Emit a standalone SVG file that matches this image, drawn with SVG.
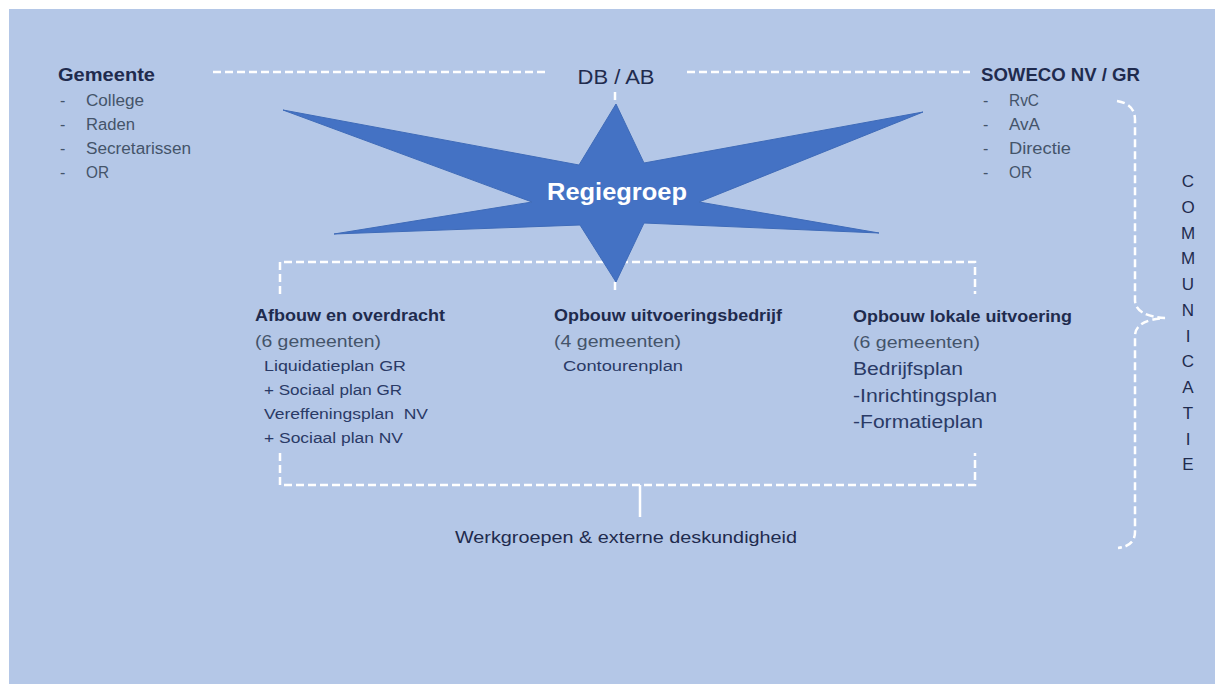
<svg xmlns="http://www.w3.org/2000/svg" width="1215" height="684" viewBox="0 0 1215 684">
<style>
text{font-family:"Liberation Sans",Arial,sans-serif;}
.h{font-weight:bold;fill:#1f2b4e;font-size:18px;}
.li{fill:#44546a;font-size:16px;}
.sub{fill:#44546a;font-size:17px;}
.it{fill:#2a3a66;font-size:15.5px;}
.it2{fill:#2a3a66;font-size:18px;}
.dash{fill:none;stroke:#ffffff;stroke-width:2.5;stroke-dasharray:8 4;}
.solid{fill:none;stroke:#ffffff;stroke-width:2.5;}
.comm{fill:#1f2b4e;font-size:17px;text-anchor:middle;}
</style>
<rect x="9" y="9" width="1206" height="675" fill="#b4c7e7"/>
<g id="connectors">
<line class="dash" x1="213" y1="72" x2="545" y2="72"/>
<line class="dash" x1="687" y1="72" x2="970" y2="72"/>
<line class="dash" x1="615" y1="92" x2="615" y2="104"/>
<line class="dash" x1="615" y1="282" x2="615" y2="294"/>
<path class="dash" d="M280,294 V262 H975 V294"/>
<path class="dash" d="M280,453 V485 H975 V453"/>
<line class="solid" x1="640" y1="485" x2="640" y2="517"/>
<path class="dash" d="M1117,101 Q1135,104 1135,120 V300 Q1135,316 1165,318 Q1135,320 1135,336 V532 Q1135,546 1118,548"/>
</g>
<g id="regiegroep">
<polygon points="616,104 644,163 923,112 699,202 879,233 644,223 616,282 580,225 334,234 532,202 283,110 579,165" fill="#4472c4" stroke="#3f6bb8" stroke-width="1"/>
<text x="617" y="200" text-anchor="middle" font-weight="bold" font-size="24" fill="#ffffff" textLength="140" lengthAdjust="spacingAndGlyphs">Regiegroep</text>
</g>
<g id="gemeente">
<text class="h" x="58" y="81" textLength="97" lengthAdjust="spacingAndGlyphs">Gemeente</text>
<text class="li" x="60" y="106">-</text><text class="li" x="86" y="106" textLength="58" lengthAdjust="spacingAndGlyphs">College</text>
<text class="li" x="60" y="130">-</text><text class="li" x="86" y="130" textLength="49" lengthAdjust="spacingAndGlyphs">Raden</text>
<text class="li" x="60" y="154">-</text><text class="li" x="86" y="154" textLength="105" lengthAdjust="spacingAndGlyphs">Secretarissen</text>
<text class="li" x="60" y="178">-</text><text class="li" x="86" y="178" textLength="23" lengthAdjust="spacingAndGlyphs">OR</text>
</g>
<g id="dbab">
<text x="616" y="84" text-anchor="middle" font-size="20" fill="#1f2b4e" textLength="77" lengthAdjust="spacingAndGlyphs">DB / AB</text>
</g>
<g id="soweco">
<text class="h" x="981" y="81" font-weight="normal" style="font-weight:600" textLength="159" lengthAdjust="spacingAndGlyphs">SOWECO NV / GR</text>
<text class="li" x="983" y="106">-</text><text class="li" x="1009" y="106" textLength="30" lengthAdjust="spacingAndGlyphs">RvC</text>
<text class="li" x="983" y="130">-</text><text class="li" x="1009" y="130" textLength="31" lengthAdjust="spacingAndGlyphs">AvA</text>
<text class="li" x="983" y="154">-</text><text class="li" x="1009" y="154" textLength="62" lengthAdjust="spacingAndGlyphs">Directie</text>
<text class="li" x="983" y="178">-</text><text class="li" x="1009" y="178" textLength="23" lengthAdjust="spacingAndGlyphs">OR</text>
</g>
<g id="afbouw">
<text class="h" x="255" y="321" font-size="17" style="font-size:17px" textLength="190" lengthAdjust="spacingAndGlyphs">Afbouw en overdracht</text>
<text class="sub" x="255" y="347" textLength="126" lengthAdjust="spacingAndGlyphs">(6 gemeenten)</text>
<text class="it" x="264" y="371" textLength="142" lengthAdjust="spacingAndGlyphs">Liquidatieplan GR</text>
<text class="it" x="264" y="395" textLength="138" lengthAdjust="spacingAndGlyphs">+ Sociaal plan GR</text>
<text class="it" x="264" y="419" textLength="164" lengthAdjust="spacingAndGlyphs" xml:space="preserve">Vereffeningsplan  NV</text>
<text class="it" x="264" y="443" textLength="139" lengthAdjust="spacingAndGlyphs">+ Sociaal plan NV</text>
</g>
<g id="opbouw-uitvoeringsbedrijf">
<text class="h" x="554" y="321" style="font-size:17px" textLength="228" lengthAdjust="spacingAndGlyphs">Opbouw uitvoeringsbedrijf</text>
<text class="sub" x="554" y="347" textLength="127" lengthAdjust="spacingAndGlyphs">(4 gemeenten)</text>
<text class="it" x="563" y="371" textLength="120" lengthAdjust="spacingAndGlyphs">Contourenplan</text>
</g>
<g id="opbouw-lokale-uitvoering">
<text class="h" x="853" y="322" style="font-size:17px" textLength="219" lengthAdjust="spacingAndGlyphs">Opbouw lokale uitvoering</text>
<text class="sub" x="853" y="348" textLength="127" lengthAdjust="spacingAndGlyphs">(6 gemeenten)</text>
<text class="it2" x="853" y="375" textLength="110" lengthAdjust="spacingAndGlyphs">Bedrijfsplan</text>
<text class="it2" x="853" y="402" textLength="144" lengthAdjust="spacingAndGlyphs">-Inrichtingsplan</text>
<text class="it2" x="853" y="428" textLength="130" lengthAdjust="spacingAndGlyphs">-Formatieplan</text>
</g>
<g id="werkgroepen">
<text x="455" y="543" font-size="17" fill="#1f2b4e" textLength="342" lengthAdjust="spacingAndGlyphs">Werkgroepen &amp; externe deskundigheid</text>
</g>
<g id="communicatie">
<text class="comm" x="1188" y="187">C</text>
<text class="comm" x="1188" y="213">O</text>
<text class="comm" x="1188" y="239">M</text>
<text class="comm" x="1188" y="264">M</text>
<text class="comm" x="1188" y="290">U</text>
<text class="comm" x="1188" y="316">N</text>
<text class="comm" x="1188" y="342">I</text>
<text class="comm" x="1188" y="367">C</text>
<text class="comm" x="1188" y="393">A</text>
<text class="comm" x="1188" y="419">T</text>
<text class="comm" x="1188" y="445">I</text>
<text class="comm" x="1188" y="470">E</text>
</g>
</svg>
